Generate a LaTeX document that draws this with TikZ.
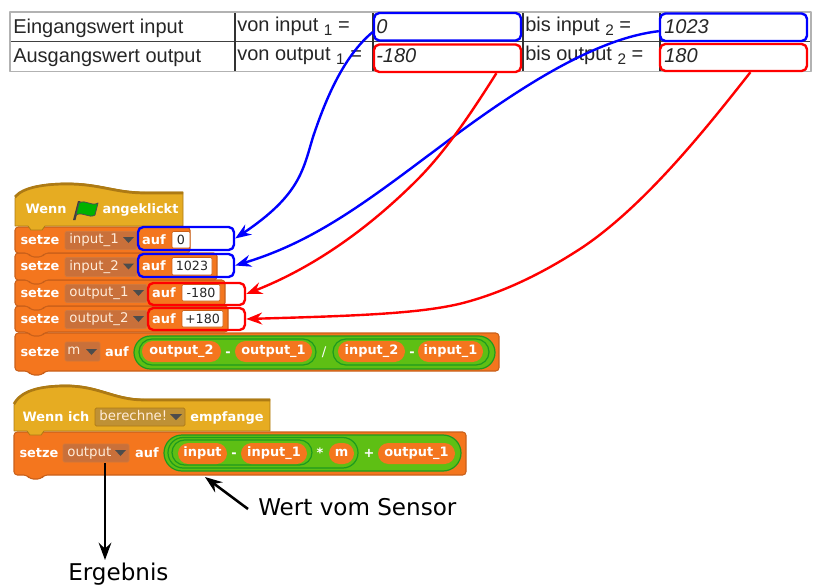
\documentclass[tikz,border=0pt]{standalone}
\usepackage{fontspec}
\setmainfont{Liberation Sans}
\newfontfamily\blockfont{DejaVu Sans}
\usetikzlibrary{arrows.meta}
\definecolor{blockorange}{HTML}{F4761E}
\definecolor{blockedge}{HTML}{C9601A}
\definecolor{hatyellow}{HTML}{E6AC22}
\definecolor{hatedge}{HTML}{AD7A14}
\definecolor{menuorange}{HTML}{C9703A}
\definecolor{menuyellow}{HTML}{BF9135}
\definecolor{exprgreen}{HTML}{5EBF14}
\definecolor{exprdark}{HTML}{1E9A1E}
\tikzset{
	block/.style={fill=blockorange,draw=blockedge,line width=0.8pt},
	hat/.style={fill=hatyellow,draw=hatedge,line width=0.6pt},
	word/.style={font=\blockfont\bfseries\fontsize{9.7}{12}\selectfont,text=white,text height=7pt,text depth=1pt,inner sep=0pt},
	menu/.style={fill=menuorange,draw=blockedge!85!white,line width=0.5pt,rounded corners=1pt,font=\blockfont\fontsize{10}{12}\selectfont,text=white!85!orange,text height=7pt,text depth=2pt},
	field/.style={fill=white,draw=blockedge,line width=0.4pt,rounded corners=1pt,font=\blockfont\fontsize{9.5}{12}\selectfont,text=black!85,text height=7pt,text depth=0pt},
	pill/.style={fill=blockorange,font=\blockfont\bfseries\fontsize{9.7}{12}\selectfont,text=white,text height=7pt,text depth=2pt},
	expr/.style={fill=exprgreen,draw=exprdark,line width=0.9pt},
	bluebox/.style={draw=blue,line width=1.8pt,rounded corners=4pt},
	redbox/.style={draw=red,line width=1.8pt,rounded corners=4pt},
	cell/.style={anchor=base west,inner sep=0pt,font=\fontsize{15}{18}\selectfont,text=black!85},
	value/.style={cell,font=\itshape\fontsize{15}{18}\selectfont},
	note/.style={anchor=base west,font=\blockfont\fontsize{17.3}{20}\selectfont,inner sep=0pt},
	bluearrow/.style={blue,line width=1.8pt,-{Stealth[length=12pt,width=9pt,inset=4pt]}},
	redarrow/.style={red,line width=1.8pt,-{Stealth[length=12pt,width=9pt,inset=4pt]}},
	blackarrow/.style={black,line width=1.9pt,-{Stealth[length=13pt,width=9.5pt,inset=4.5pt]}},
}
% x1 y1 x2 y2
\newcommand{\stackblock}[4]{
	\draw[block,rounded corners=2.5pt] (#1,#2)--(#3,#2)--(#3,#4)--({#1+30},#4)--({#1+27},{#4+4})--({#1+16},{#4+4})--({#1+13},#4)--(#1,#4)--cycle;
}
% x1 ytop yflat x2 y2
\newcommand{\hatblock}[5]{
	\draw[hat] (#1,{#3+6}) .. controls ({#1+8},{#2+4}) and ({#1+30},#2) .. ({#1+52},#2) .. controls ({#1+85},#2) and ({#1+100},#3) .. ({#1+130},#3)--(#4,#3)--(#4,#5)--({#1+30},#5)--({#1+27},{#5+4})--({#1+16},{#5+4})--({#1+13},#5)--(#1,#5)--cycle;
	\draw[hatedge,line width=2pt] (#1,{#3+5}) .. controls ({#1+8},{#2+4}) and ({#1+30},{#2+1}) .. ({#1+52},{#2+1}) .. controls ({#1+85},{#2+1}) and ({#1+100},{#3+1}) .. ({#1+130},{#3+1})--(#4,{#3+1});
}
% name x1 y1 x2 y2 style text
\newcommand{\slot}[7]{
	\node[inner sep=0pt,minimum width={((#4)-(#2))*.75pt},minimum height={((#5)-(#3))*.75pt},rounded corners={((#5)-(#3))*.375pt},#6] (#1) at ({((#2)+(#4))/2},{((#3)+(#5))/2}) {#7};
}
\begin{document}
\begin{tikzpicture}[x=.75pt,y=-.75pt,line join=round]
	\useasboundingbox (0,0) rectangle (836,585);
	% table
	\draw[black!75,line width=.9pt] (10,41.5)--(811,41.5);
	\foreach \x in {235,373,523,660}
	\draw[black!80,line width=.9pt] (\x,12)--(\x,71.5);
	\draw[black!30,line width=1.1pt] (10,12) rectangle (811,71.5);
	\node[cell] (tabIn) at (13,34) {Eingangswert input};
	\node[cell] (tabOut) at (13,63) {Ausgangswert output};
	\node[cell] (vonIn) at (237,32) {von input \raisebox{-3pt}{\fontsize{11.5}{12}\selectfont 1} =};
	\node[cell] (vonOut) at (237,61) {von output \raisebox{-3pt}{\fontsize{11.5}{12}\selectfont 1} =};
	\node[cell] (bisIn) at (525,32) {bis input \raisebox{-3pt}{\fontsize{11.5}{12}\selectfont 2} =};
	\node[cell] (bisOut) at (525,61) {bis output \raisebox{-3pt}{\fontsize{11.5}{12}\selectfont 2} =};
	\node[value] (valA) at (376,34) {0};
	\node[value] (valB) at (376,63) {-180};
	\node[value] (valC) at (664,34) {1023};
	\node[value] (valD) at (664,63) {180};
	\slot{boxA}{374}{13}{521}{40.5}{bluebox}{}
	\slot{boxB}{374}{44.5}{521}{72}{redbox}{}
	\slot{boxC}{660}{13.5}{807}{41}{bluebox}{}
	\slot{boxD}{660}{44}{807}{71}{redbox}{}
	% first script
	\stackblock{15}{333}{499}{371}
	\foreach \ya/\yb/\xe/\xm/\vname/\xauf/\xf/\xg/\vval in {
		306/332/228/147/output\_2/164/182/223/+180,
		280/306/225/147/output\_1/164/182/220/-180,
		253/280/217/137/input\_2/154/172/212/1023,
		227/253/190/137/input\_1/154/172/190/0}{
		\stackblock{15}{\ya}{\xe}{\yb}
		\pgfmathsetmacro\ym{(\ya+\yb)/2}
		\node[word] (setze\ya) at (40,\ym) {setze};
		\slot{menu\ya}{65}{\ya+4.5}{\xm}{\yb-3.5}{menu}{\hspace*{-10.5pt}\vname}
		\fill[black!70] (\xm-14,\ym-3)--(\xm-3,\ym-3)--(\xm-8.5,\ym+3)--cycle;
		\node[word] (auf\ya) at (\xauf,\ym) {auf};
		\slot{val\ya}{\xf}{\ya+4.5}{\xg}{\yb-5}{field}{\vval}
	}
	\hatblock{15}{183}{192}{183}{226}
	\node[word] (wenn) at (46,210) {Wenn};
	\node[word] (klick) at (140.5,210) {angeklickt};
	\fill[black!75] (73,220)--(75.5,220)--(80.5,201)--(78,201)--cycle;
	\draw[black!70,line width=.6pt,fill=green!70!black] (79,203) .. controls (86,199) and (91,207) .. (98,203)--(95,215) .. controls (89,219) and (83,211) .. (76,215)--cycle;
	\node[word] (mSetze) at (40,352) {setze};
	\slot{mMenu}{65}{342}{100}{361}{menu}{\hspace*{-13pt}m}
	\fill[black!70] (86,349)--(97,349)--(91.5,355)--cycle;
	\node[word] (mAuf) at (117,352) {auf};
	\slot{mOuter}{134}{336}{495}{369}{expr}{}
	\slot{mLeft}{139}{339}{316}{365}{expr}{}
	\slot{mRight}{333}{339}{489}{365}{expr}{}
	\slot{outTwo}{142}{341}{221}{362}{pill}{output\_2}
	\node[word] (minA) at (228,352) {-};
	\slot{outOne}{235}{341}{312}{362}{pill}{output\_1}
	\node[word,font=\blockfont\fontsize{10}{12}\selectfont] (div) at (324,352) {/};
	\slot{inTwo}{338}{341}{405}{362}{pill}{input\_2}
	\node[word] (minB) at (412,352) {-};
	\slot{inOne}{418}{341}{483}{362}{pill}{input\_1}
	% second script
	\stackblock{14}{432}{466}{475}
	\hatblock{14}{385}{399}{270}{431}
	\node[word] (wennIch) at (56,417) {Wenn ich};
	\slot{msgMenu}{95}{408}{185}{426}{menu,fill=menuyellow,draw=hatedge}{\hspace*{-10pt}berechne!}
	\fill[black!70] (170,414)--(182,414)--(176,420)--cycle;
	\node[word] (empf) at (227,417) {empfange};
	\node[word] (oSetze) at (39,453) {setze};
	\slot{oMenu}{63}{444}{129}{462}{menu}{\hspace*{-10pt}output}
	\fill[black!70] (115,450)--(126,450)--(120.5,456)--cycle;
	\node[word] (oAuf) at (147,453) {auf};
	\slot{oOuter}{164}{435}{461}{471}{expr}{}
	\slot{oMid}{168}{437.5}{358}{468}{expr}{}
	\slot{oInner}{172}{440}{312}{465}{expr}{}
	\slot{oIn}{178}{443}{227}{464}{pill}{input}
	\node[word] (minC) at (234,453) {-};
	\slot{oInOne}{241}{443}{307}{464}{pill}{input\_1}
	\node[word] (star) at (320,453) {*};
	\slot{oM}{329}{443}{354}{464}{pill}{m}
	\node[word] (plus) at (369,453) {+};
	\slot{oOutOne}{378}{443}{455}{464}{pill}{output\_1}
	% marks on the blocks
	\slot{markA}{138}{227}{234}{250}{bluebox}{}
	\slot{markB}{138}{254}{234}{277}{bluebox}{}
	\slot{markC}{148}{283}{245}{305}{redbox}{}
	\slot{markD}{148}{308}{245}{330}{redbox}{}
	% arrows
	\draw[bluearrow] (boxA.184) .. controls (345,55) and (327,95) .. (313,137) .. controls (303,170) and (300,195) .. (markA.east);
	\draw[bluearrow] (boxC.183) .. controls (600,38) and (530,80) .. (453,137) .. controls (375,195) and (320,240) .. (markB.east);
	\draw[redarrow] (boxB.-17.5) .. controls (470,115) and (445,152) .. (417,180) .. controls (375,222) and (320,265) .. (markC.east);
	\draw[redarrow] (boxD.-41) .. controls (705,130) and (645,205) .. (583,247) .. controls (545,272) and (505,292) .. (463,303) .. controls (420,314) and (350,316) .. (markD.east);
	\node[note] (sensor) at (258,515) {Wert vom Sensor};
	\node[note] (ergebnis) at (68,580) {Ergebnis};
	\coordinate (sensorTip) at (205,477);
	\coordinate (sensorEnd) at (248,509);
	\coordinate (menuEnd) at (105,463);
	\coordinate (ergebnisTip) at (105,560);
	\draw[blackarrow] (sensorEnd)--(sensorTip);
	\draw[blackarrow] (menuEnd)--(ergebnisTip);
\end{tikzpicture}
\end{document}
